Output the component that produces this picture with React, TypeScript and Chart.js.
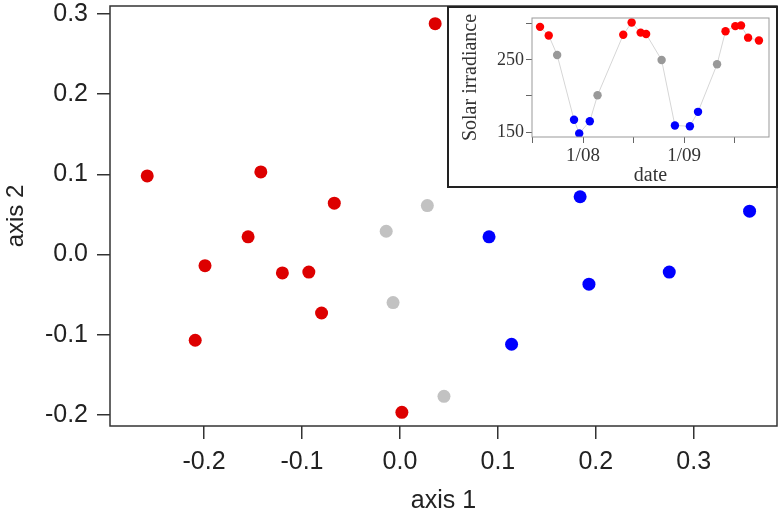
import React, { useEffect, useRef } from 'react';
import { Chart, registerables } from 'chart.js';

Chart.register(...registerables);

// ---- Main ordination plot data ----
const redAxis1 = [-0.258, -0.142, -0.067, -0.155, -0.199, -0.120, -0.093, -0.080, -0.209, 0.002, 0.036];
const redAxis2 = [0.098, 0.103, 0.064, 0.022, -0.014, -0.023, -0.022, -0.073, -0.107, -0.197, 0.288];
const greyAxis1 = [0.028, -0.014, -0.007, 0.045];
const greyAxis2 = [0.061, 0.029, -0.060, -0.177];
const blueAxis1 = [0.091, 0.184, 0.357, 0.193, 0.275, 0.114];
const blueAxis2 = [0.022, 0.072, 0.054, -0.037, -0.022, -0.112];
const axisTicks = [-0.2, -0.1, 0.0, 0.1, 0.2, 0.3];

// ---- Inset data ----
const sampleDates = [
  '2007-07-29', '2007-08-30', '2007-09-29', '2007-11-29', '2007-12-18', '2008-01-26', '2008-02-22',
  '2008-05-25', '2008-06-24', '2008-07-27', '2008-08-16', '2008-10-11', '2008-11-28', '2009-01-22',
  '2009-02-19', '2009-04-28', '2009-05-29', '2009-07-03', '2009-07-24', '2009-08-19', '2009-09-27',
];
const irradiance = [296, 284, 257, 167, 148, 165, 201, 285, 302, 288, 286, 250, 159, 158, 178, 244, 290, 297, 298, 281, 277];
const season = ['r', 'r', 'g', 'b', 'b', 'b', 'g', 'r', 'r', 'r', 'r', 'g', 'b', 'b', 'b', 'g', 'r', 'r', 'r', 'r', 'r'];
const dateTickDates = ['2007-07-01', '2008-01-01', '2008-07-01', '2009-01-01', '2009-07-01'];
const dateTickLabels = ['', '1/08', '', '1/09', ''];
const irrTicks = [150, 200, 250, 300];
const irrTickLabels = ['150', '', '250', ''];

const MAIN_COLORS: Record<string, string> = { r: '#dd0000', g: '#c2c2c2', b: '#0000ff' };
const INSET_COLORS: Record<string, string> = { r: '#ff0000', g: '#999999', b: '#0000ff' };

function toMonths(s: string): number {
  const [y, m, d] = s.split('-').map(Number);
  const dim = new Date(y, m, 0).getDate();
  return (y - 2007) * 12 + (m - 1) + (d - 1) / dim;
}

function boxPlugin(id: string, color: string, width: number, outer?: { color: string; width: number }) {
  return {
    id,
    afterDraw(chart: any) {
      const { ctx, chartArea } = chart;
      ctx.save();
      ctx.strokeStyle = color;
      ctx.lineWidth = width;
      ctx.strokeRect(chartArea.left, chartArea.top, chartArea.right - chartArea.left, chartArea.bottom - chartArea.top);
      if (outer) {
        ctx.strokeStyle = outer.color;
        ctx.lineWidth = outer.width;
        ctx.strokeRect(1, 1, chart.width - 2, chart.height - 2);
      }
      ctx.restore();
    },
  };
}

const SANS = '"Liberation Sans", Arial, Helvetica, sans-serif';
const SERIF = '"Liberation Serif", "Times New Roman", serif';

function fitX(h: number) {
  return (s: any) => {
    s.height = h;
    s.paddingLeft = 0;
    s.paddingRight = 0;
  };
}
function fitY(w: number) {
  return (s: any) => {
    s.width = w;
    s.paddingTop = 0;
    s.paddingBottom = 0;
  };
}

export default function App() {
  const mainRef = useRef<HTMLCanvasElement>(null);
  const insetRef = useRef<HTMLCanvasElement>(null);

  useEffect(() => {
    const pts = (xs: number[], ys: number[]) => xs.map((x, i) => ({ x, y: ys[i] }));
    const mkSet = (xs: number[], ys: number[], c: string) => ({
      data: pts(xs, ys),
      pointBackgroundColor: c,
      pointBorderWidth: 0,
      pointRadius: 6.5,
      showLine: false,
    });
    const tickFont = { family: SANS, size: 25 };
    const mainGrid = { drawOnChartArea: false, drawTicks: true, tickLength: 13, color: '#333', lineWidth: 1.5 };

    const main = new Chart(mainRef.current!, {
      type: 'scatter',
      data: {
        datasets: [
          mkSet(redAxis1, redAxis2, MAIN_COLORS.r),
          mkSet(greyAxis1, greyAxis2, MAIN_COLORS.g),
          mkSet(blueAxis1, blueAxis2, MAIN_COLORS.b),
        ] as any,
      },
      options: {
        responsive: false,
        animation: false,
        layout: { autoPadding: false, padding: { top: 6, right: 2, left: 0, bottom: 0 } },
        plugins: { legend: { display: false }, tooltip: { enabled: false } },
        scales: {
          x: {
            type: 'linear',
            min: -0.296,
            max: 0.385,
            afterBuildTicks: (s: any) => { s.ticks = axisTicks.map((v) => ({ value: v })); },
            afterFit: fitX(92),
            grid: mainGrid,
            border: { display: false },
            ticks: { callback: (v: any) => Number(v).toFixed(1), font: tickFont, color: '#222', padding: 8, maxRotation: 0, autoSkip: false },
            title: { display: true, text: 'axis 1', font: { family: SANS, size: 25 }, color: '#222', padding: { top: 0, bottom: 2 } },
          },
          y: {
            type: 'linear',
            min: -0.214,
            max: 0.31,
            afterBuildTicks: (s: any) => { s.ticks = axisTicks.map((v) => ({ value: v })); },
            afterFit: fitY(110),
            grid: mainGrid,
            border: { display: false },
            ticks: { callback: (v: any) => Number(v).toFixed(1), font: tickFont, color: '#222', padding: 9, autoSkip: false },
            title: { display: true, text: 'axis 2', font: { family: SANS, size: 24 }, color: '#222', padding: { top: 2, bottom: 0 } },
          },
        },
      } as any,
      plugins: [boxPlugin('mainBox', '#333', 1.5)],
    });

    const insetGrid = { drawOnChartArea: false, drawTicks: true, tickLength: 6, color: '#666', lineWidth: 1 };
    const inset = new Chart(insetRef.current!, {
      type: 'scatter',
      data: {
        datasets: [
          {
            data: sampleDates.map((d, i) => ({ x: toMonths(d), y: irradiance[i] })),
            showLine: true,
            borderColor: '#d6d6d6',
            borderWidth: 1,
            pointBackgroundColor: season.map((s) => INSET_COLORS[s]),
            pointBorderWidth: 0,
            pointRadius: 4.2,
          },
        ] as any,
      },
      options: {
        responsive: false,
        animation: false,
        layout: { autoPadding: false, padding: { top: 12, right: 9, left: 0, bottom: 0 } },
        plugins: { legend: { display: false }, tooltip: { enabled: false } },
        scales: {
          x: {
            type: 'linear',
            min: 5.95,
            max: 34.06,
            afterBuildTicks: (s: any) => { s.ticks = dateTickDates.map((d) => ({ value: toMonths(d) })); },
            afterFit: fitX(51),
            grid: insetGrid,
            border: { display: false },
            ticks: {
              callback: (_v: any, i: number) => dateTickLabels[i],
              font: { family: SERIF, size: 19 }, color: '#333', padding: 2, maxRotation: 0, autoSkip: false,
            },
            title: { display: true, text: 'date', font: { family: SERIF, size: 20 }, color: '#333', padding: { top: 0, bottom: 0 } },
          },
          y: {
            type: 'linear',
            min: 143.06,
            max: 308.3,
            afterBuildTicks: (s: any) => { s.ticks = irrTicks.map((v) => ({ value: v })); },
            afterFit: fitY(85),
            grid: insetGrid,
            border: { display: false },
            ticks: {
              callback: (_v: any, i: number) => irrTickLabels[i],
              font: { family: SERIF, size: 18 }, color: '#333', padding: 2, autoSkip: false,
            },
            title: { display: true, text: 'Solar irradiance', font: { family: SERIF, size: 20 }, color: '#333', padding: { top: 12, bottom: 0 } },
          },
        },
      } as any,
      plugins: [boxPlugin('insetBox', '#999', 1, { color: '#222', width: 2 })],
    });

    return () => {
      main.destroy();
      inset.destroy();
    };
  }, []);

  return (
    <div style={{ position: 'fixed', left: 0, top: 0, width: 779, height: 518, background: '#fff' }}>
      <canvas ref={mainRef} width={779} height={518} style={{ position: 'absolute', left: 0, top: 0 }} />
      <canvas ref={insetRef} width={331} height={182} style={{ position: 'absolute', left: 447, top: 6, background: '#fff' }} />
    </div>
  );
}
